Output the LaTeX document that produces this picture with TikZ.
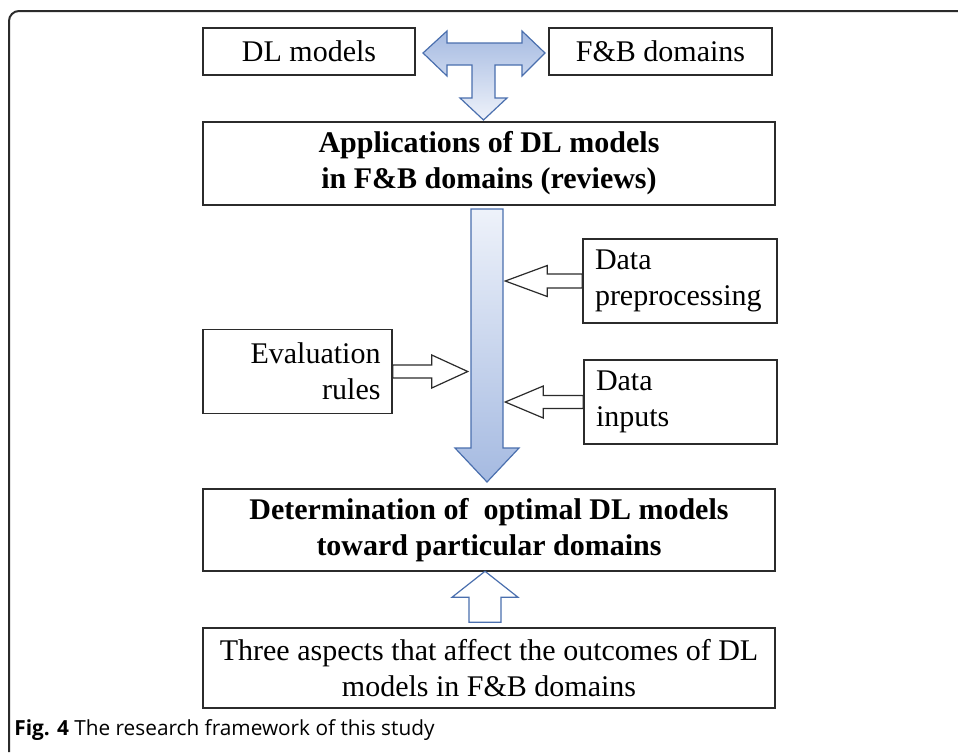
\documentclass[tikz,border=0pt]{standalone}
\usepackage{fontspec}
\setmainfont{Liberation Serif}
\newfontfamily\captionfont{Open Sans}
\usetikzlibrary{calc}
\definecolor{boxline}{HTML}{2B2B2B}
\definecolor{arrowline}{HTML}{4A6FAE}
\definecolor{arrowlight}{HTML}{EEF2FA}
\definecolor{arrowdark}{HTML}{A5BAE1}
\tikzstyle{stagebox}=[draw=boxline,line width=0.75pt,fill=white,inner sep=0pt,align=center,font=\fontsize{15}{18}\selectfont]
\tikzstyle{sidebox}=[stagebox,inner xsep=6pt,minimum height=42pt]
\tikzstyle{hollow}=[draw=boxline,fill=white,line width=0.6pt,line join=miter]
\tikzstyle{bluehollow}=[hollow,draw=arrowline]
\tikzstyle{blueshade}=[draw=arrowline,line width=0.6pt,line join=miter]
\newcommand{\blockarrow}[7][hollow]{% [style] {tip} {rotation} {length} {head length} {head half width} {shaft half width}
  \draw[#1,shift={(#2)},rotate=#3] (0,0) -- (#5,-#6) -- (#5,-#7) -- (#4,-#7) -- (#4,#7) -- (#5,#7) -- (#5,#6) -- cycle;
}

\begin{document}
\begin{tikzpicture}[x=0.5pt,y=-0.5pt]
  \useasboundingbox (0,0) rectangle (958,752);
  % frame of the figure
  \draw[boxline,line width=1pt,rounded corners=5pt] (958,11) -- (9,11) -- (9,752);

  \node[stagebox,minimum width=106pt,minimum height=23.5pt] (dl) at (309,51.5) {DL models};
  \node[stagebox,minimum width=111.5pt,minimum height=23.5pt] (fb) at (660.5,51.5) {F\&B domains};
  \node[stagebox,minimum width=286pt,minimum height=41.5pt] (app) at (489,163.5) {\bfseries Applications of DL models\\ \bfseries in F\&B domains (reviews)};
  \node[sidebox,text width=85pt,align=left] (prep) at (680,281) {Data\\preprocessing};
  \node[sidebox,text width=84.5pt,align=left] (inp) at (680.5,402) {Data\\inputs};
  \node[sidebox,text width=83pt,inner xsep=5.75pt,align=right] (eval) at (297.5,371.5) {Evaluation\\rules};
  \node[stagebox,minimum width=286pt,minimum height=41pt] (det) at (489,530) {\bfseries Determination of\ \ optimal DL models\\ \bfseries toward particular domains};
  \node[stagebox,minimum width=286pt,minimum height=40pt] (three) at (489,668) {Three aspects that affect the outcomes of DL\\models in F\&B domains};

  % the T arrow between the two inputs
  \draw[blueshade,top color=arrowdark,bottom color=arrowlight]
    (423,53) -- (447,31) -- (447,43) -- (522,43) -- (522,31) -- (545,53) -- (522,76) -- (522,65)
    -- (495,65) -- (495,98) -- (507,98) -- (483.5,120) -- (460,98) -- (472,98) -- (472,65)
    -- (447,65) -- (447,76) -- cycle;
  % main flow
  \draw[blueshade,top color=arrowlight,bottom color=arrowdark]
    (471,209) -- (503,209) -- (503,448) -- (519,448) -- (487,482) -- (455,448) -- (471,448) -- cycle;

  \coordinate (preptip) at ($(prep.west)+(-77,0)$);
  \coordinate (inptip) at ($(inp.west)+(-78,0)$);
  \coordinate (evaltip) at ($(eval.east)+(75,0)$);
  \coordinate (threetip) at ($(three.north)+(-4,-56)$);
  \blockarrow{preptip}{0}{77}{42}{15.5}{7}
  \blockarrow{inptip}{0}{78}{38}{16}{6.5}
  \blockarrow{evaltip}{180}{75}{36}{16.5}{6.5}
  \blockarrow[bluehollow]{threetip}{-90}{51}{26}{33}{16}

  \node[anchor=base west,inner sep=0pt,font=\captionfont\fontsize{10.4}{12}\selectfont] (caption) at (14,735) {\textbf{Fig. 4} The research framework of this study};
\end{tikzpicture}
\end{document}
